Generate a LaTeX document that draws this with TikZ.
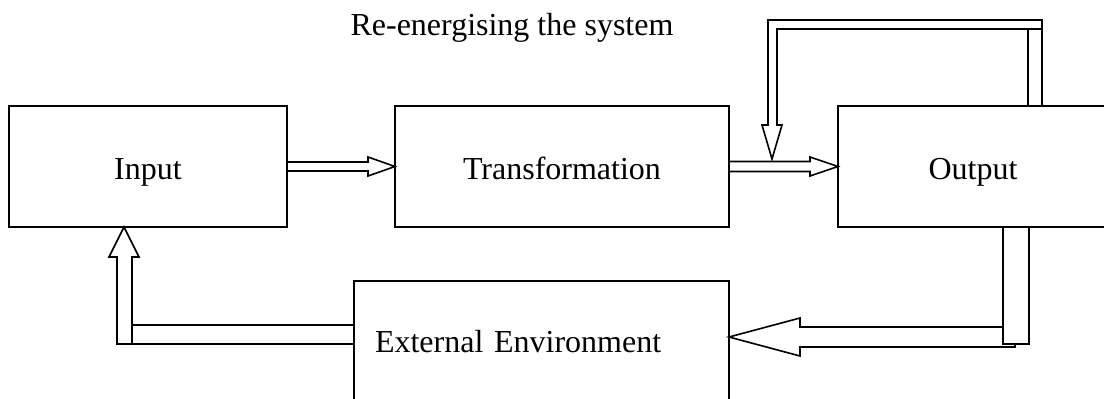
\documentclass[tikz,border=0pt]{standalone}
\usepackage{fontspec}
\setmainfont{Liberation Serif}
\usetikzlibrary{calc}

\tikzset{
  stage/.style={draw, rectangle, inner sep=0pt, outer sep=0pt, minimum height=60.5pt, text height=12.5pt, text depth=0pt},
}

\begin{document}
\begin{tikzpicture}[x=0.5pt, y=-0.5pt, font=\fontsize{16}{19}\selectfont, line width=0.8pt, line join=miter]
    \useasboundingbox (0,0) rectangle (1104,398);
    \node[stage, minimum width=139pt] (in) at (148,166.5) {Input};
    \node[stage, minimum width=167pt] (tr) at (562,166.5) {Transformation};
    \node[stage, minimum width=135pt] (out) at (973,166.5) {Output};
    \node[stage, anchor=north west, text width=166.5pt, inner xsep=10.5pt, minimum height=69.5pt, text depth=11pt, align=left] (env) at (354,281) {External Environment};
    \node[anchor=base] (title) at (512,35) {Re-energising the system};
    % hollow arrows between the stages
    \draw ($(in.east)+(0,-4.5)$) -- ($(tr.west)+(-27,-4.5)$) -- ++(0,-5) -- (tr.west) -- ($(tr.west)+(-27,9.5)$) -- ++(0,-5) -- ($(in.east)+(0,4.5)$);
    \draw ($(tr.east)+(0,-5)$) -- ($(out.west)+(-28,-5)$) -- ++(0,-4.5) -- (out.west) -- ($(out.west)+(-28,9.5)$) -- ++(0,-4.5) -- ($(tr.east)+(0,5)$);
    % re-energising loop
    \coordinate (merge) at ($(out.west)+(-66,-7.5)$);
    \draw ($(out.north west)+(204,0)$) -- ++(0,-86) -- ++(-274,0) -- ++(0,105) -- ++(-6,0) -- (merge) -- ++(10,-34) -- ++(-5,0) -- ++(0,-96) -- ++(251,0) -- ++(0,77);
    \draw ($(out.north west)+(190,-77)$) -- ++(14,0);
    % back to the environment
    \coordinate (back) at ($(env.north east)+(0,56)$);
    \draw ($(out.south west)+(165,0)$) rectangle ++(26,117);
    \draw ($(out.south west)+(165,100)$) -- ($(back)+(71,-10)$) -- ++(0,-9) -- (back) -- ++(71,19) -- ++(0,-9) -- ++(215,0) -- ++(0,-3);
    % environment feeds the input
    \draw ($(env.north west)+(0,44)$) -- ++(-222,0) -- ++(0,-68) -- ++(7,0) -- ($(in.south west)+(115,0)$) -- ++(-15,30) -- ++(8,0) -- ++(0,87) -- ++(237,0);
    \draw ($(env.north west)+(-222,44)$) -- ++(0,19);
\end{tikzpicture}
\end{document}
